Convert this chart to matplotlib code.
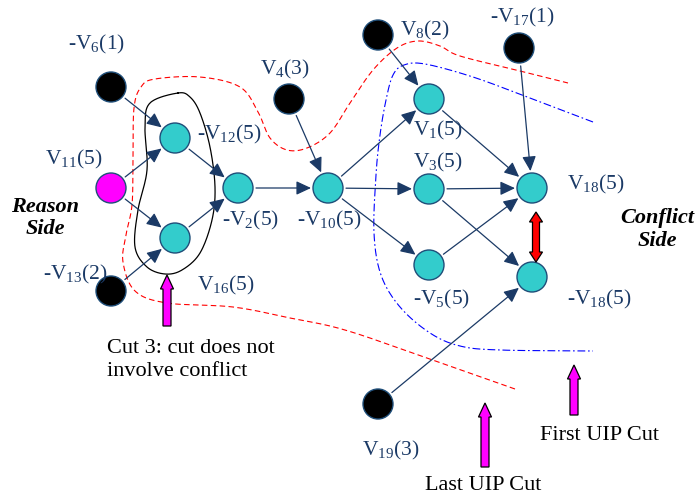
import numpy as np
import matplotlib
matplotlib.use("Agg")
import matplotlib.pyplot as plt
from matplotlib.patches import Circle, FancyArrowPatch, Polygon

plt.rcParams['font.family'] = ['Liberation Serif', 'DejaVu Serif']
plt.rcParams['mathtext.fontset'] = 'custom'
plt.rcParams['mathtext.rm'] = 'Liberation Serif'
plt.rcParams['mathtext.it'] = 'Liberation Serif:italic'
plt.rcParams['mathtext.bf'] = 'Liberation Serif:bold'

# ---- data ----
node_ids = ['nV6', 'V4', 'nV12', 'V11', 'nV2', 'nV10', 'V16', 'nV13',
            'V8', 'nV17', 'V1', 'V3', 'V18', 'nV5', 'nV18', 'V19']
node_x = [111, 289, 175, 111, 238, 328, 175, 111, 378, 519, 429, 429, 532, 429, 532, 378]
node_y = [87, 99, 138, 188, 188, 188, 238, 291, 35, 48, 99, 189, 188, 265, 277, 404]
node_kind = ['decision', 'decision', 'implied', 'current', 'implied', 'implied', 'implied',
             'decision', 'decision', 'decision', 'implied', 'implied', 'implied', 'implied',
             'implied', 'decision']

label_text = [r'-V$_{6}$(1)', r'V$_{4}$(3)', r'-V$_{12}$(5)', r'V$_{11}$(5)', r'-V$_{2}$(5)',
              r'-V$_{10}$(5)', r'V$_{16}$(5)', r'-V$_{13}$(2)', r'V$_{8}$(2)', r'-V$_{17}$(1)',
              r'V$_{1}$(5)', r'V$_{3}$(5)', r'V$_{18}$(5)', r'-V$_{5}$(5)', r'-V$_{18}$(5)',
              r'V$_{19}$(3)']
label_x = [68, 260, 197, 45, 222, 297, 197, 43, 400, 490, 413, 413, 567, 413, 567, 362]
label_y = [42, 67, 132, 157, 218, 218, 283, 272, 28, 15, 128, 160, 182, 297, 297, 448]

edges = [('nV6', 'nV12'), ('V11', 'nV12'), ('V11', 'V16'), ('nV12', 'nV2'), ('V16', 'nV2'),
         ('nV13', 'V16'), ('nV2', 'nV10'), ('V4', 'nV10'), ('nV10', 'V1'), ('nV10', 'V3'),
         ('nV10', 'nV5'), ('V8', 'V1'), ('V1', 'V18'), ('V3', 'V18'), ('V3', 'nV18'),
         ('nV5', 'V18'), ('nV17', 'V18'), ('V19', 'nV18')]

last_uip_curve = [(515, 389), (427, 358), (345, 330), (290, 318), (233, 307), (167, 303),
                  (135, 291), (123, 262), (126, 235), (132, 205), (133, 160), (134, 108),
                  (141, 87), (155, 79), (200, 77), (240, 87), (258, 112), (270, 138),
                  (287, 150), (307, 148), (330, 133), (350, 103), (373, 70), (397, 48),
                  (418, 41), (440, 46), (460, 56), (520, 71), (568, 83)]
first_uip_curve = [(593, 122), (530, 98), (473, 77), (425, 64), (404, 65), (393, 75),
                   (386, 100), (380, 135), (376, 175), (374, 233), (381, 275), (400, 307),
                   (430, 333), (460, 346), (500, 350), (593, 351)]
cut3_curve = [(178, 93), (150, 103), (145, 127), (147, 170), (138, 210), (135, 247),
              (147, 267), (165, 274), (182, 270), (200, 253), (212, 220), (215, 187),
              (210, 147), (200, 113), (190, 97)]

side_text = ['Reason\nSide', 'Conflict\nSide']
side_x = [45, 657]
side_y = [218, 230]

cut_labels = ['Cut 3: cut does not\ninvolve conflict', 'First UIP Cut', 'Last UIP Cut']
cut_label_x = [107, 540, 425]
cut_label_y = [360, 435, 485]
cut_arrow_x = [167, 574, 485]
cut_arrow_tail = [326, 415, 467]
cut_arrow_tip = [275, 365, 403]

# ---- styles ----
W, H = 695, 499
NAVY = '#1B3A66'
fill = {'decision': '#000000', 'implied': '#33CCCC', 'current': '#FF00FF'}
R = 15

fig = plt.figure(figsize=(W / 100, H / 100), dpi=100)
ax = fig.add_axes([0, 0, 1, 1])
ax.set_xlim(0, W)
ax.set_ylim(H, 0)
ax.axis('off')


def catmull(pts, closed=False, n=20):
    p = np.array(pts, dtype=float)
    if closed:
        p = np.vstack([p[-1], p, p[0], p[1]])
    else:
        p = np.vstack([2 * p[0] - p[1], p, 2 * p[-1] - p[-2]])
    out = []
    for i in range(1, len(p) - 2):
        p0, p1, p2, p3 = p[i - 1], p[i], p[i + 1], p[i + 2]
        t = np.linspace(0, 1, n, endpoint=False)[:, None]
        seg = 0.5 * ((2 * p1) + (-p0 + p2) * t + (2 * p0 - 5 * p1 + 4 * p2 - p3) * t ** 2
                     + (-p0 + 3 * p1 - 3 * p2 + p3) * t ** 3)
        out.append(seg)
    out.append(p[-2][None, :])
    return np.vstack(out)


c = catmull(last_uip_curve)
ax.plot(c[:, 0], c[:, 1], color='#FF0000', lw=0.8, dashes=(5, 3), zorder=1)
c = catmull(first_uip_curve)
ax.plot(c[:, 0], c[:, 1], color='#0000FF', lw=0.8, dashes=(7, 2.5, 1.5, 2.5), zorder=1)
c = catmull(cut3_curve, closed=True)
ax.plot(c[:, 0], c[:, 1], color='black', lw=0.9, zorder=1)

pos = {n: (x, y) for n, x, y in zip(node_ids, node_x, node_y)}

for a, b in edges:
    (x0, y0), (x1, y1) = pos[a], pos[b]
    d = np.hypot(x1 - x0, y1 - y0)
    ux, uy = (x1 - x0) / d, (y1 - y0) / d
    s = (x0 + ux * (R + 3), y0 + uy * (R + 3))
    e = (x1 - ux * (R + 2), y1 - uy * (R + 2))
    ax.add_patch(FancyArrowPatch(s, e, arrowstyle='-|>,head_length=0.9,head_width=0.42',
                                 mutation_scale=10, color=NAVY, lw=0.9,
                                 shrinkA=0, shrinkB=0, zorder=2))

for n, k in zip(node_ids, node_kind):
    ax.add_patch(Circle(pos[n], R, facecolor=fill[k], edgecolor='#1F4E79', lw=1.0, zorder=3))

for t, x, y in zip(label_text, label_x, label_y):
    ax.text(x, y + 7, t, fontsize=15.5, color=NAVY, ha='left', va='baseline', zorder=4)

for t, x, y in zip(side_text, side_x, side_y):
    ax.text(x, y, t, fontsize=16, fontweight='bold', fontstyle='italic', color='black',
            ha='center', va='center', linespacing=1.2)

for t, x, y in zip(cut_labels, cut_label_x, cut_label_y):
    ax.text(x, y, t, fontsize=16, color='black', ha='left', va='center', linespacing=1.3)


def block_arrow(x, y_tail, y_tip, bw, hw, hl, fc, double=False):
    sgn = 1 if y_tip > y_tail else -1
    if not double:
        pts = [(x - bw / 2, y_tail), (x - bw / 2, y_tip - sgn * hl), (x - hw / 2, y_tip - sgn * hl),
               (x, y_tip), (x + hw / 2, y_tip - sgn * hl), (x + bw / 2, y_tip - sgn * hl),
               (x + bw / 2, y_tail)]
    else:
        pts = [(x, y_tail), (x - hw / 2, y_tail + sgn * hl), (x - bw / 2, y_tail + sgn * hl),
               (x - bw / 2, y_tip - sgn * hl), (x - hw / 2, y_tip - sgn * hl), (x, y_tip),
               (x + hw / 2, y_tip - sgn * hl), (x + bw / 2, y_tip - sgn * hl),
               (x + bw / 2, y_tail + sgn * hl), (x + hw / 2, y_tail + sgn * hl)]
    ax.add_patch(Polygon(pts, closed=True, facecolor=fc, edgecolor='black', lw=0.9, zorder=3))


for x, t0, t1 in zip(cut_arrow_x, cut_arrow_tail, cut_arrow_tip):
    block_arrow(x, t0, t1, 8, 13, 14, '#FF00FF')

block_arrow(536, 212, 262, 7, 13, 10, '#FF0000', double=True)

fig.savefig('out.png', dpi=100)
